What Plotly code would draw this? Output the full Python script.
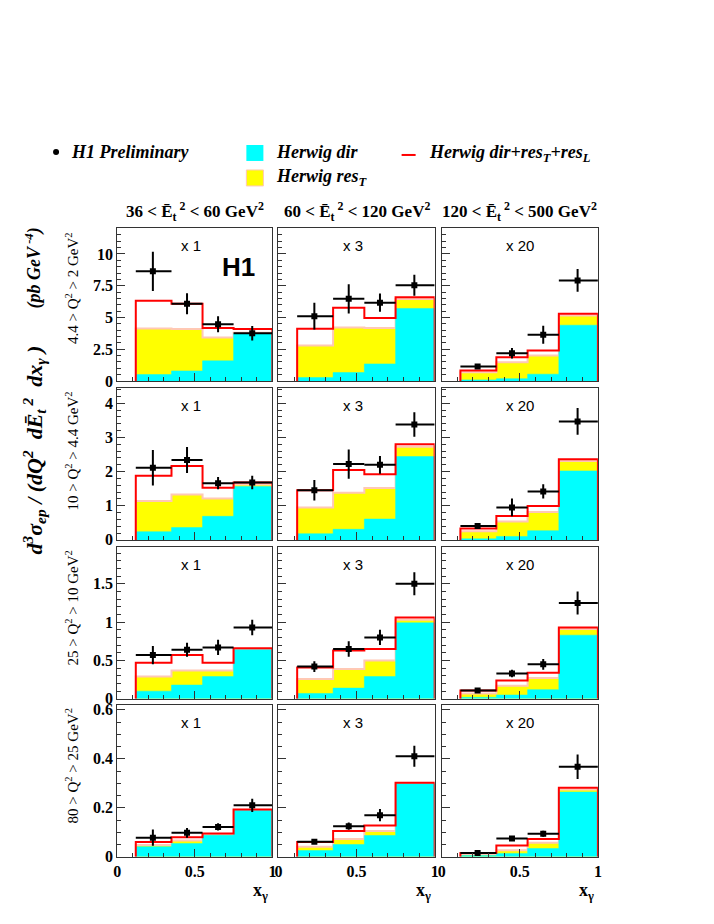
import plotly.graph_objects as go

# the figure is rendered inside the page with a small offset/scale; map window pixels to figure paper
OFF = 8
W, H = 714 - 2 * OFF, 924 - 2 * OFF
A, S = 11.0, 0.987

bin_edges = [0.12, 0.35, 0.55, 0.75, 1.0]
x_points = [0.23, 0.45, 0.65, 0.87]

q2_labels = ["4.4 > Q<sup>2</sup> > 2 GeV<sup>2</sup>",
             "10 > Q<sup>2</sup> > 4.4 GeV<sup>2</sup>",
             "25 > Q<sup>2</sup> > 10 GeV<sup>2</sup>",
             "80 > Q<sup>2</sup> > 25 GeV<sup>2</sup>"]
et2_labels = ["36 < Ē<sub>t</sub><sup> 2</sup> < 60 GeV<sup>2</sup>",
              "60 < Ē<sub>t</sub><sup> 2</sup> < 120 GeV<sup>2</sup>",
              "120 < Ē<sub>t</sub><sup> 2</sup> < 500 GeV<sup>2</sup>"]
scale_labels = ["x 1", "x 3", "x 20"]

y_max = [12.05, 4.45, 1.98, 0.62]
y_tickvals = [[0, 2.5, 5, 7.5, 10], [0, 1, 2, 3, 4], [0, 0.5, 1, 1.5], [0, 0.2, 0.4, 0.6]]
y_ticktext = [["0", "2.5", "5", "7.5", "10"], ["0", "1", "2", "3", "4"],
              ["0", "0.5", "1", "1.5"], ["0", "0.2", "0.4", "0.6"]]
x_tickvals = [0, 0.5, 1]
x_ticktext = ["0", "0.5", "1"]
y_minor = [0.5, 0.2, 0.1, 0.05]

# panels ordered row by row (Q2 bins), columns = Et2 bins
h1_data = [
    [8.63, 6.08, 4.47, 3.76], [5.1, 6.47, 6.16, 7.53], [1.13, 2.18, 3.63, 7.92],
    [2.11, 2.34, 1.66, 1.68], [1.45, 2.22, 2.2, 3.38], [0.41, 0.95, 1.42, 3.47],
    [0.57, 0.64, 0.67, 0.93], [0.42, 0.65, 0.8, 1.5], [0.11, 0.33, 0.45, 1.25],
    [0.078, 0.098, 0.122, 0.21], [0.061, 0.125, 0.17, 0.41], [0.016, 0.075, 0.094, 0.367],
]
h1_err = [
    [1.55, 0.83, 0.63, 0.57], [1.05, 1.15, 0.72, 0.83], [0.12, 0.42, 0.71, 0.9],
    [0.52, 0.38, 0.18, 0.2], [0.3, 0.43, 0.26, 0.36], [0.05, 0.26, 0.21, 0.39],
    [0.12, 0.09, 0.1, 0.1], [0.07, 0.1, 0.1, 0.15], [0.02, 0.05, 0.07, 0.15],
    [0.033, 0.02, 0.015, 0.027], [0.006, 0.015, 0.025, 0.043], [0.004, 0.01, 0.012, 0.05],
]
herwig_total = [
    [6.32, 6.08, 4.16, 4.08], [4.1, 5.76, 4.95, 6.6], [0.82, 1.87, 2.39, 5.29],
    [1.88, 2.16, 1.53, 1.68], [1.45, 2.05, 1.92, 2.8], [0.33, 0.7, 0.99, 2.36],
    [0.47, 0.57, 0.47, 0.66], [0.41, 0.63, 0.65, 1.06], [0.11, 0.24, 0.34, 0.93],
    [0.06, 0.08, 0.095, 0.193], [0.06, 0.105, 0.128, 0.302], [0.016, 0.046, 0.073, 0.282],
]
herwig_dir_resT = [
    [4.13, 4.08, 3.42, 3.8], [2.79, 4.2, 4.16, 6.45], [0.68, 1.47, 2.0, 5.16],
    [1.14, 1.33, 1.21, 1.62], [0.95, 1.38, 1.52, 2.73], [0.25, 0.54, 0.82, 2.31],
    [0.29, 0.37, 0.37, 0.65], [0.26, 0.39, 0.5, 1.03], [0.07, 0.17, 0.27, 0.91],
    [0.048, 0.067, 0.091, 0.19], [0.041, 0.073, 0.105, 0.299], [0.01, 0.027, 0.057, 0.275],
]
herwig_dir = [
    [0.5, 0.79, 1.58, 3.72], [0.26, 0.66, 1.34, 5.71], [0.08, 0.18, 0.53, 4.39],
    [0.24, 0.36, 0.69, 1.56], [0.18, 0.31, 0.61, 2.44], [0.03, 0.1, 0.27, 2.02],
    [0.1, 0.18, 0.29, 0.64], [0.07, 0.14, 0.29, 0.99], [0.02, 0.05, 0.12, 0.83],
    [0.041, 0.054, 0.088, 0.189], [0.026, 0.05, 0.087, 0.298], [0.005, 0.014, 0.034, 0.264],
]

# layout geometry (window pixels)
col_px = [(116, 271), (277, 433), (440, 596)]
row_px = [(228, 381), (388, 540), (547, 699), (705, 857)]

def px(x):
    return ((x - A) / S) / W

def py(y):
    return 1 - ((y - A) / S) / H

SERIF = "Liberation Serif"
SANS = "Liberation Sans"
CYAN = "#00ffff"
YELLOW = "#ffff00"
PINK = "#ffc8b4"
RED = "#ff0000"
AXC = "#333333"

fig = go.Figure()
annotations = []
shapes = []

def step(vals):
    xs = [bin_edges[0]] + bin_edges + [bin_edges[-1]]
    ys = [0] + list(vals) + [vals[-1], 0]
    return xs, ys

def bold(lst):
    return [f"<b>{t}</b>" for t in lst]

for r in range(4):
    for c in range(3):
        k = r * 3 + c
        idx = k + 1
        xa = "x" if idx == 1 else f"x{idx}"
        ya = "y" if idx == 1 else f"y{idx}"
        xs, ys = step(herwig_dir_resT[k])
        fig.add_trace(go.Scatter(x=xs, y=ys, mode="lines", line=dict(shape="hv", color=PINK, width=2),
                                 fill="tozeroy", fillcolor=YELLOW, xaxis=xa, yaxis=ya,
                                 showlegend=False, hoverinfo="skip"))
        xs, ys = step(herwig_dir[k])
        fig.add_trace(go.Scatter(x=xs, y=ys, mode="lines", line=dict(shape="hv", color=CYAN, width=0.5),
                                 fill="tozeroy", fillcolor=CYAN, xaxis=xa, yaxis=ya,
                                 showlegend=False, hoverinfo="skip"))
        xs, ys = step(herwig_total[k])
        fig.add_trace(go.Scatter(x=xs, y=ys, mode="lines", line=dict(shape="hv", color=RED, width=2),
                                 xaxis=xa, yaxis=ya, showlegend=False, hoverinfo="skip"))
        fig.add_trace(go.Scatter(
            x=x_points, y=h1_data[k], mode="markers",
            marker=dict(color="black", size=6, symbol="square"),
            error_y=dict(type="data", array=h1_err[k], color="black", thickness=2, width=0),
            error_x=dict(type="data", symmetric=False,
                         array=[bin_edges[i + 1] - x_points[i] for i in range(4)],
                         arrayminus=[x_points[i] - bin_edges[i] for i in range(4)],
                         color="black", thickness=2, width=0),
            xaxis=xa, yaxis=ya, showlegend=False, hoverinfo="skip"))

        x0, x1 = col_px[c]
        y0, y1 = row_px[r]
        axis_common = dict(showline=True, mirror=True, linecolor=AXC, linewidth=1,
                           showgrid=False, zeroline=False, ticks="inside", tickcolor=AXC,
                           ticklen=8, tickwidth=1,
                           tickfont=dict(family=SERIF, size=16, color="black"))
        fig.layout[("xaxis" if idx == 1 else f"xaxis{idx}")] = dict(
            axis_common, domain=[px(x0), px(x1)], range=[0, 1], anchor=ya,
            tickvals=x_tickvals, ticktext=bold(x_ticktext), showticklabels=(r == 3),
            minor=dict(ticks="inside", dtick=0.1, tick0=0, ticklen=4, tickcolor=AXC))
        fig.layout[("yaxis" if idx == 1 else f"yaxis{idx}")] = dict(
            axis_common, domain=[py(y1), py(y0)], range=[0, y_max[r]], anchor=xa,
            tickvals=y_tickvals[r], ticktext=bold(y_ticktext[r]), showticklabels=(c == 0),
            minor=dict(ticks="inside", dtick=y_minor[r], tick0=0, ticklen=4, tickcolor=AXC))

        annotations.append(dict(text=scale_labels[c], xref=xa, x=0.40, yref="paper",
                                y=py(y0 + 18), xanchor="left", yanchor="middle", showarrow=False,
                                font=dict(family=SANS, size=15, color="black")))

for r in range(4):
    annotations.append(dict(text=q2_labels[r], xref="paper", yref="paper", x=px(71), y=py(row_px[r][0] + 2),
                            xanchor="center", yanchor="top", textangle=-90, showarrow=False,
                            font=dict(family=SERIF, size=15, color="black")))
for c in range(3):
    annotations.append(dict(text=f"<b>{et2_labels[c]}</b>", xref="paper", yref="paper",
                            x=px((col_px[c][0] + col_px[c][1]) / 2), y=py(212),
                            xanchor="center", yanchor="middle", showarrow=False,
                            font=dict(family=SERIF, size=17, color="black")))
for c in range(3):
    annotations.append(dict(text="<b>x<sub>γ</sub></b>", xref="paper", yref="paper",
                            x=px(col_px[c][1] - 2), y=py(892), xanchor="right", yanchor="middle",
                            showarrow=False, font=dict(family=SERIF, size=18, color="black")))
annotations.append(dict(
    text="<b><i>d<sup>3</sup>σ<sub>ep</sub> / (dQ<sup>2</sup>  dĒ<sub>t</sub><sup> 2</sup>  dx<sub>γ</sub> )</i></b>",
    xref="paper", yref="paper", x=px(33), y=py(344), xanchor="center", yanchor="top",
    textangle=-90, showarrow=False, font=dict(family=SERIF, size=22, color="black")))
annotations.append(dict(text="<b><i>(pb GeV<sup> -4</sup>)</i></b>",
                        xref="paper", yref="paper", x=px(33), y=py(226), xanchor="center", yanchor="top",
                        textangle=-90, showarrow=False, font=dict(family=SERIF, size=18, color="black")))
annotations.append(dict(text="<b>H1</b>", xref="paper", yref="paper", x=px(237), y=py(267),
                        xanchor="center", yanchor="middle", showarrow=False,
                        font=dict(family=SANS, size=26, color="black")))

# legend
shapes.append(dict(type="circle", xref="paper", yref="paper", x0=px(52), x1=px(58), y0=py(149), y1=py(155),
                   fillcolor="black", line=dict(color="black", width=0)))
annotations.append(dict(text="<b><i>H1 Preliminary</i></b>", xref="paper", yref="paper", x=px(68), y=py(152),
                        xanchor="left", yanchor="middle", showarrow=False,
                        font=dict(family=SERIF, size=18, color="black")))
shapes.append(dict(type="rect", xref="paper", yref="paper", x0=px(245), x1=px(262), y0=py(161), y1=py(145),
                   fillcolor=CYAN, line=dict(color=CYAN, width=0)))
annotations.append(dict(text="<b><i>Herwig dir</i></b>", xref="paper", yref="paper", x=px(273), y=py(152),
                        xanchor="left", yanchor="middle", showarrow=False,
                        font=dict(family=SERIF, size=18, color="black")))
shapes.append(dict(type="rect", xref="paper", yref="paper", x0=px(245), x1=px(262), y0=py(186), y1=py(170),
                   fillcolor=YELLOW, line=dict(color=PINK, width=1)))
annotations.append(dict(text="<b><i>Herwig res<sub>T</sub></i></b>", xref="paper", yref="paper", x=px(273), y=py(178),
                        xanchor="left", yanchor="middle", showarrow=False,
                        font=dict(family=SERIF, size=18, color="black")))
shapes.append(dict(type="line", xref="paper", yref="paper", x0=px(400), x1=px(414), y0=py(155), y1=py(155),
                   line=dict(color=RED, width=2)))
annotations.append(dict(text="<b><i>Herwig dir+res<sub>T</sub>+res<sub>L</sub></i></b>", xref="paper", yref="paper",
                        x=px(425), y=py(154), xanchor="left", yanchor="middle", showarrow=False,
                        font=dict(family=SERIF, size=18, color="black")))

fig.update_layout(width=W, height=H, margin=dict(l=0, r=0, t=0, b=0),
                  paper_bgcolor="white", plot_bgcolor="white",
                  annotations=annotations, shapes=shapes, showlegend=False)

fig.write_html("out.html")
